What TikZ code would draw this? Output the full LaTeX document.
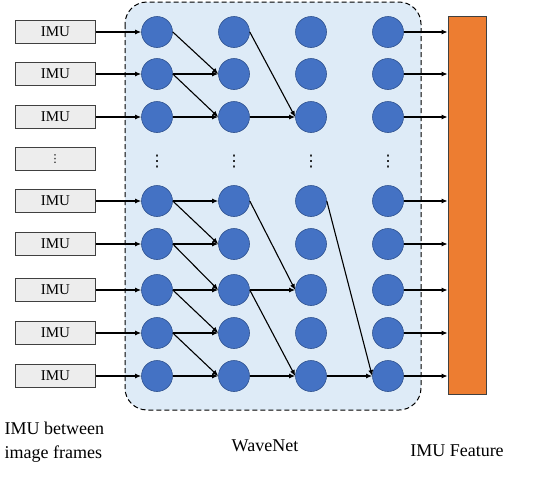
\documentclass[tikz,border=0pt]{standalone}
\usepackage{fontspec}
\setmainfont{Liberation Serif}
\newfontfamily\dotsfont{DejaVu Sans}
\usetikzlibrary{positioning,arrows.meta}
\definecolor{unitblue}{HTML}{4472C4}
\definecolor{unitedge}{HTML}{2F528F}
\definecolor{blockbg}{HTML}{DEEBF7}
\definecolor{featorange}{HTML}{ED7D31}
\definecolor{imugray}{HTML}{EDEDED}

\begin{document}
\begin{tikzpicture}[x=1pt,y=-1pt,
    unit/.style={circle,fill=unitblue,draw=unitedge,line width=0.6pt,minimum size=31pt,inner sep=0pt},
    imubox/.style={draw=black!75,fill=imugray,line width=0.8pt,minimum width=80pt,minimum height=23pt,inner sep=0pt,font=\fontsize{15}{15}\selectfont},
    vdot/.style={inner sep=0pt,font=\dotsfont\fontsize{16}{16}\selectfont},
    conn/.style={-{Latex[length=6pt,width=5pt]},line width=1.1pt}]
    \useasboundingbox (0,0) rectangle (544,498);

    % WaveNet block
    \draw[fill=blockbg,dashed,dash pattern=on 5pt off 3pt,line width=1pt,rounded corners=22pt] (125,2) rectangle (421,410);

    % Units and inputs
    \foreach \r/\y in {1/32,2/74,3/117,5/201,6/244,7/290,8/333,9/376} {
        \node[imubox] (imu-\r) at (55.5,\y) {IMU};
        \foreach \c/\x in {1/157,2/234,3/311,4/388}
            \node[unit] (c\c-\r) at (\x,\y) {};
    }
    \node[imubox] (imu-4) at (55,159) {};
    \node[vdot,font=\dotsfont\fontsize{11}{11}\selectfont] (imu-dots) at (imu-4) {⋮};
    \foreach \c/\x in {1/157,2/234,3/311,4/388}
        \node[vdot] (dots-\c) at (\x,162) {⋮};

    % Feature bar
    \node[draw=black!75,fill=featorange,line width=0.8pt,minimum width=38pt,minimum height=378pt,inner sep=0pt] (feat) at (467,205) {};

    % Connections
    \foreach \r in {1,2,3,5,6,7,8,9} {
        \draw[conn] (imu-\r) -- (c1-\r);
        \draw[conn] (c4-\r) -- (c4-\r -| feat.west);
    }
    \foreach \a/\b in {1/2,2/2,2/3,3/3,5/5,5/6,6/6,6/7,7/7,7/8,8/8,8/9,9/9}
        \draw[conn] (c1-\a.east) -- (c2-\b.west);
    \foreach \a/\b in {1/3,3/3,5/7,7/7,7/9,9/9}
        \draw[conn] (c2-\a.east) -- (c3-\b.west);
    \foreach \a/\b in {5/9,9/9}
        \draw[conn] (c3-\a.east) -- (c4-\b.west);

    % Labels
    \node[align=left,anchor=west,font=\fontsize{18}{24}\selectfont] (lbl-in) at (1,442) {IMU between\\image frames};
    \node[font=\fontsize{18}{24}\selectfont] (lbl-net) at (265,446) {WaveNet};
    \node[font=\fontsize{18}{24}\selectfont] (lbl-feat) at (457,451) {IMU Feature};
\end{tikzpicture}
\end{document}
